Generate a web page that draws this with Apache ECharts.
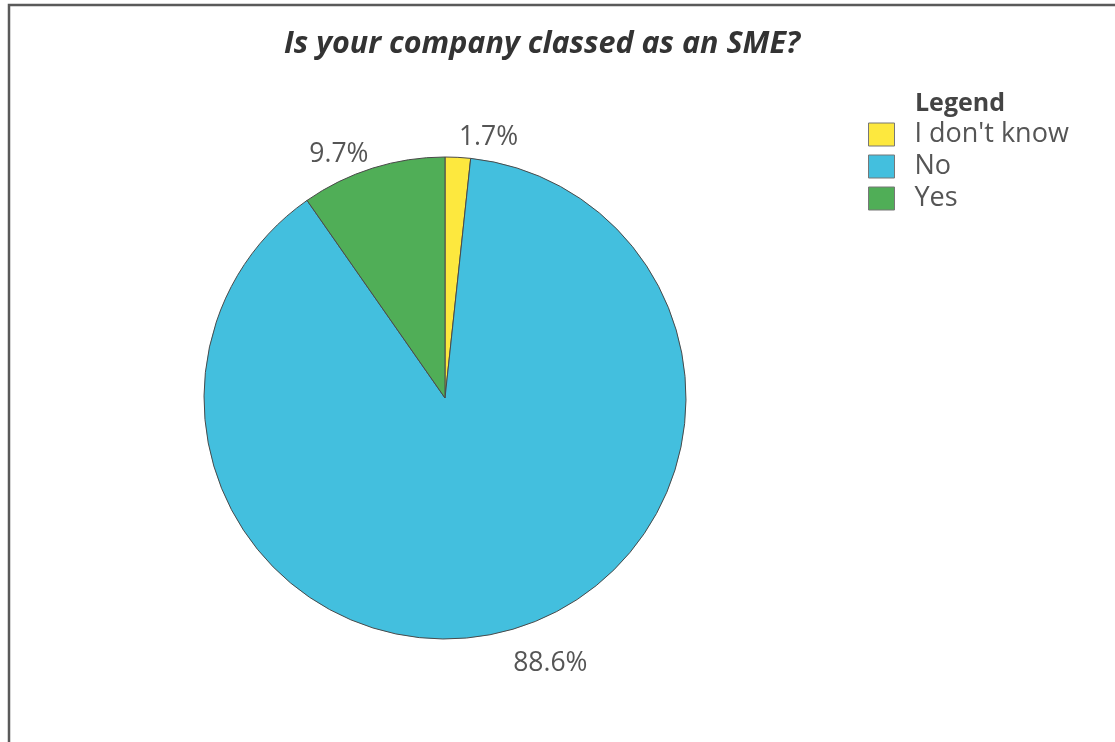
<!DOCTYPE html>
<html>
<head>
<meta charset="utf-8">
<style>
  html, body { margin: 0; padding: 0; background: #fff; }
  #chart { width: 1115px; height: 742px; }
</style>
<script src="https://cdn.jsdelivr.net/npm/echarts@6/dist/echarts.min.js"></script>
</head>
<body>
<div id="chart"></div>
<script>
// Survey answers and their shares (percent)
const categories = ["I don't know", "No", "Yes"];
const shares = [1.7, 88.6, 9.7];
const sliceColors = ['#FDE83E', '#43BFDE', '#50AE57'];

const chart = echarts.init(document.getElementById('chart'), null, { renderer: 'canvas' });
const font = '"Open Sans", "Segoe UI", sans-serif';

// distance of each percentage label from the rim
const labelGaps = { "I don't know": 20, "No": 33, "Yes": 14 };

chart.setOption({
  animation: false,
  backgroundColor: '#ffffff',
  title: [
    {
      text: 'Is your company classed as an SME?',
      left: 537, top: 24, textAlign: 'center',
      textStyle: { fontFamily: font, fontSize: 30.5, fontWeight: 'bold', fontStyle: 'italic', color: '#333' }
    },
    {
      text: 'Legend',
      left: 910, top: 86,
      textStyle: { fontFamily: font, fontSize: 25, fontWeight: 'bold', color: '#444' }
    }
  ],
  legend: {
    orient: 'vertical',
    left: 863, top: 116,
    itemWidth: 26, itemHeight: 23, itemGap: 5,
    icon: 'rect',
    data: categories,
    textStyle: { fontFamily: font, fontSize: 27, color: '#555', padding: [0, 0, 0, 15] },
    itemStyle: { borderColor: '#777', borderWidth: 1 }
  },
  graphic: [
    {
      type: 'rect',
      shape: { x: 9, y: 5, width: 1300, height: 900 },
      style: { fill: 'none', stroke: '#5a5a5a', lineWidth: 2.5 },
      silent: true
    }
  ],
  series: [{
    type: 'pie',
    center: [445, 398],
    radius: 241,
    startAngle: 90,
    clockwise: true,
    data: categories.map((name, i) => ({
      name,
      value: shares[i],
      itemStyle: { color: sliceColors[i] },
      labelLine: { length: labelGaps[name] }
    })),
    itemStyle: { borderColor: '#4a4a4a', borderWidth: 1 },
    label: {
      show: true,
      position: 'outside',
      distanceToLabelLine: 0,
      formatter: (p) => p.value.toFixed(1) + '%',
      fontFamily: font, fontSize: 26.5, color: '#555'
    },
    labelLine: { show: false, length: 20, length2: 0 },
    emphasis: { disabled: true }
  }]
});
</script>
</body>
</html>
